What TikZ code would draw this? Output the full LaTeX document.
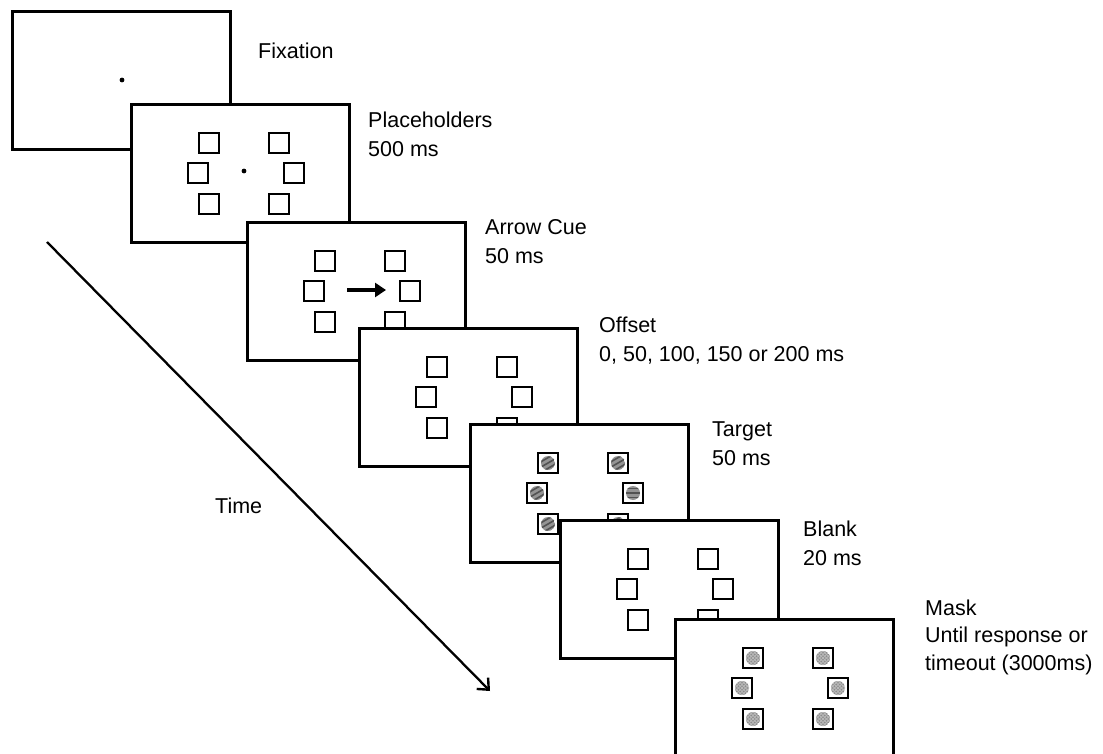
\documentclass[tikz,border=0pt]{standalone}
\usepackage{fontspec}
\newfontfamily\arial{Liberation Sans}
\usetikzlibrary{arrows.meta,calc}
\tikzset{
  screen/.style={draw, line width=2.7pt, fill=white, anchor=north west, inner sep=0pt,
    minimum width=218pt, minimum height=138pt},
  holder/.style={draw, line width=2.8pt, fill=white, inner sep=0pt, minimum size=20pt},
  lbl/.style={anchor=base west, align=left, inner sep=0pt, font=\arial\fontsize{21.5}{29}\selectfont},
  cue/.style={line width=4pt, -{Triangle[length=11pt,width=14pt]}},
  timeline/.style={line width=2.3pt, -{Straight Barb[length=9pt,width=16pt,line width=2.4pt]}}
}
% six placeholders in one frame, #2 fills each one
\newcommand\holders[2]{%
  \foreach \i/\dx/\dy/\ang in {1/79/40/30, 2/149/40/30, 3/68/70/30,
      4/164/70/0, 5/79/101/30, 6/149/101/30}{
    \node[holder] (#1h\i) at ($(#1.north west)+(\dx,\dy)$) {};
    #2{#1h\i}{\ang}
  }}
\newcommand\plain[2]{}
\newcommand\grating[2]{%
  \begin{scope}
    \clip (#1) circle (7pt);
    \fill[black!42] (#1) circle (7pt);
    \foreach \k in {-4.6,0,4.6}
      \draw[black!68, line width=1.6pt, rotate around={#2:(#1)}]
        ($(#1)+(-9,\k)$) -- ($(#1)+(9,\k)$);
  \end{scope}}
\newcommand\masker[2]{%
  \begin{scope}
    \clip (#1) circle (7pt);
    \fill[black!45] (#1) circle (7pt);
    \foreach \u in {-7,-3.5,0,3.5,7}{
      \draw[black!28, line width=1pt] ($(#1)+(\u-9,9)$) -- ($(#1)+(\u+9,-9)$);
      \draw[black!28, line width=1pt] ($(#1)+(\u-9,-9)$) -- ($(#1)+(\u+9,9)$);
    }
  \end{scope}}

\begin{document}
\begin{tikzpicture}[x=1pt, y=-1pt]
  \useasboundingbox (0,0) rectangle (1103,754);
  % screens, front ones on top
  \node[screen] (f1) at (11,10) {};
  \fill ($(f1.north west)+(111,70)$) circle (2.4pt);
  \node[screen] (f2) at (130,103) {};
  \holders{f2}{\plain}
  \fill ($(f2.north west)+(114,68)$) circle (2.4pt);
  \node[screen] (f3) at (246,221) {};
  \holders{f3}{\plain}
  \draw[cue] ($(f3.north west)+(101,69)$) -- ($(f3.north west)+(140,69)$);
  \node[screen] (f4) at (358,327) {};
  \holders{f4}{\plain}
  \node[screen] (f5) at (469,423) {};
  \holders{f5}{\grating}
  \node[screen] (f6) at (559,519) {};
  \holders{f6}{\plain}
  \node[screen] (f7) at (674,618) {};
  \holders{f7}{\masker}

  \node[lbl] (l1) at (258,59) {Fixation};
  \node[lbl] (l2) at (368,157) {Placeholders\\500 ms};
  \node[lbl] (l3) at (485,263) {Arrow Cue\\50 ms};
  \node[lbl] (l4) at (599,361) {Offset\\0, 50, 100, 150 or 200 ms};
  \node[lbl] (l5) at (712,465) {Target\\50 ms};
  \node[lbl] (l6) at (803,565) {Blank\\20 ms};
  \node[lbl, font=\arial\fontsize{21.5}{27.5}\selectfont] (l7) at (925,670)
    {Mask\\Until response or\\timeout (3000ms)};

  % time axis
  \coordinate (t0) at (47,242);
  \coordinate (t1) at (490,691);
  \draw[timeline] (t0) -- (t1);
  \node[lbl] (tl) at (215,513) {Time};
\end{tikzpicture}
\end{document}
